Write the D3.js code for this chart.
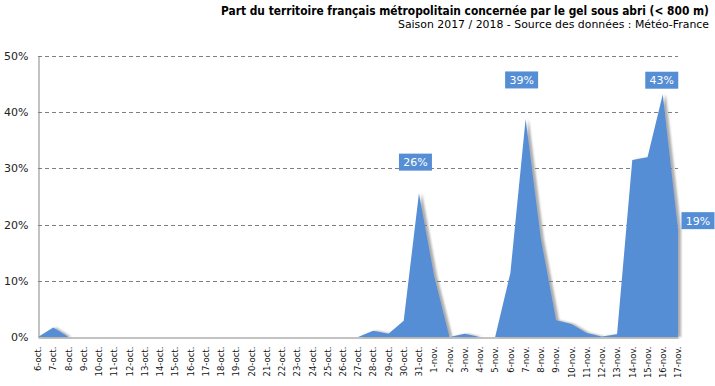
<!DOCTYPE html>
<html>
<head>
<meta charset="utf-8">
<script src="https://cdn.jsdelivr.net/npm/d3@7"></script>
<style>
  html, body { margin: 0; padding: 0; background: #fff; }
  svg { display: block; }
</style>
</head>
<body>
<svg id="chart"></svg>
<script>
// Dates shown on the x axis (one per day)
const days = [
  "6-oct.", "7-oct.", "8-oct.", "9-oct.", "10-oct.", "11-oct.", "12-oct.", "13-oct.", "14-oct.",
  "15-oct.", "16-oct.", "17-oct.", "18-oct.", "19-oct.", "20-oct.", "21-oct.", "22-oct.", "23-oct.",
  "24-oct.", "25-oct.", "26-oct.", "27-oct.", "28-oct.", "29-oct.", "30-oct.", "31-oct.",
  "1-nov.", "2-nov.", "3-nov.", "4-nov.", "5-nov.", "6-nov.", "7-nov.", "8-nov.", "9-nov.",
  "10-nov.", "11-nov.", "12-nov.", "13-nov.", "14-nov.", "15-nov.", "16-nov.", "17-nov."
];

// Share of territory with frost (%)
const frost = [
  0, 1.7, 0, 0, 0, 0, 0, 0, 0,
  0, 0, 0, 0, 0, 0, 0, 0, 0,
  0, 0, 0, 0, 1.1, 0.6, 2.9, 25.6,
  10.8, 0, 0.6, 0, 0, 11.4, 38.8, 17.5, 3.0,
  2.3, 0.7, 0.1, 0.5, 31.5, 32, 43.2, 19.1
];

const yTicks = [0, 10, 20, 30, 40, 50];

// Days that get a value label
const labelDays = ["31-oct.", "7-nov.", "16-nov.", "17-nov."];

const width = 715;
const height = 386;
const margin = { top: 56, right: 37, bottom: 49, left: 38 };

const svg = d3.select("#chart")
  .attr("width", width)
  .attr("height", height);

// Shadow on the area, like the original
const defs = svg.append("defs");
defs.append("filter")
  .attr("id", "shadow")
  .attr("x", "-5%").attr("y", "-5%")
  .attr("width", "110%").attr("height", "110%")
  .append("feDropShadow")
  .attr("dx", 3).attr("dy", 0)
  .attr("stdDeviation", 1.2)
  .attr("flood-color", "#777")
  .attr("flood-opacity", 0.6);

const x = d3.scalePoint()
  .domain(days)
  .range([margin.left, width - margin.right]);

const y = d3.scaleLinear()
  .domain([0, 50])
  .range([height - margin.bottom, margin.top]);

// Title
svg.append("text")
  .attr("x", 709).attr("y", 15)
  .attr("text-anchor", "end")
  .attr("font-family", "DejaVu Sans Condensed, DejaVu Sans, sans-serif")
  .attr("font-weight", "bold")
  .attr("font-size", 11.5)
  .attr("textLength", 488)
  .attr("lengthAdjust", "spacingAndGlyphs")
  .attr("fill", "#000")
  .text("Part du territoire français métropolitain concernée par le gel sous abri (< 800 m)");

svg.append("text")
  .attr("x", 709).attr("y", 28)
  .attr("text-anchor", "end")
  .attr("font-family", "DejaVu Sans, sans-serif")
  .attr("font-size", 11)
  .attr("textLength", 311)
  .attr("lengthAdjust", "spacingAndGlyphs")
  .attr("fill", "#000")
  .text("Saison 2017 / 2018 - Source des données : Météo-France");

// Gridlines
svg.append("g")
  .selectAll("line")
  .data(yTicks.filter(d => d > 0))
  .enter()
  .append("line")
  .attr("x1", margin.left)
  .attr("x2", width - margin.right)
  .attr("y1", d => Math.round(y(d)) + 0.5)
  .attr("y2", d => Math.round(y(d)) + 0.5)
  .attr("stroke", "#7f7f7f")
  .attr("stroke-dasharray", "4,3");

// Area
const area = d3.area()
  .x((d, i) => x(days[i]))
  .y0(y(0))
  .y1(d => y(d));

svg.append("path")
  .datum(frost)
  .attr("d", area)
  .attr("fill", "#558ed5")
  .attr("filter", "url(#shadow)");

// Y axis
const yAxis = svg.append("g")
  .attr("transform", `translate(${margin.left + 0.5},0)`)
  .call(d3.axisLeft(y).tickValues(yTicks).tickSize(0).tickPadding(10).tickFormat(d => d + "%"));
yAxis.select(".domain").attr("stroke", "#868686");
yAxis.selectAll("text")
  .attr("font-family", "DejaVu Sans, sans-serif")
  .attr("font-size", 11)
  .attr("fill", "#222");

// X axis
const xAxis = svg.append("g")
  .attr("transform", `translate(0,${Math.round(y(0)) + 0.5})`)
  .call(d3.axisBottom(x).tickSize(0).tickPadding(0));
xAxis.select(".domain").attr("stroke", "#868686");
xAxis.selectAll("text")
  .attr("font-family", "DejaVu Sans, sans-serif")
  .attr("font-size", 8.5)
  .attr("fill", "#111")
  .attr("text-anchor", "end")
  .attr("transform", "rotate(-90)")
  .attr("x", -9)
  .attr("y", 0)
  .attr("dy", "0.32em");

// Value labels (blue boxes)
const labelOffset = {
  "31-oct.": [-3.5, -31],
  "7-nov.": [-4, -39],
  "16-nov.": [-1, -14],
  "17-nov.": [20, -9]
};

const labels = svg.append("g")
  .selectAll("g")
  .data(labelDays)
  .enter()
  .append("g")
  .attr("transform", d => {
    const i = days.indexOf(d);
    const off = labelOffset[d];
    return `translate(${x(d) + off[0]},${y(frost[i]) + off[1]})`;
  });

labels.append("rect")
  .attr("x", -16.5).attr("y", -8.5)
  .attr("width", 33).attr("height", 17)
  .attr("fill", "#558ed5");

labels.append("text")
  .attr("text-anchor", "middle")
  .attr("dy", "0.36em")
  .attr("font-family", "DejaVu Sans, sans-serif")
  .attr("font-size", 11)
  .attr("fill", "#fff")
  .text(d => Math.round(frost[days.indexOf(d)]) + "%");
</script>
</body>
</html>
